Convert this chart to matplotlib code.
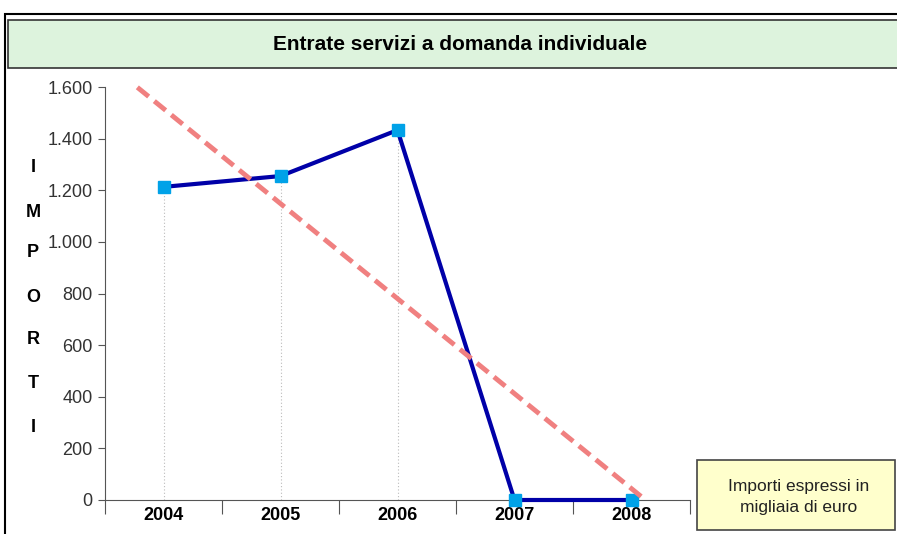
import matplotlib
matplotlib.use("Agg")
import matplotlib.pyplot as plt
import numpy as np
from matplotlib.patches import Rectangle
from matplotlib.ticker import FuncFormatter, FixedLocator

plt.rcParams['font.family'] = ['Liberation Sans', 'DejaVu Sans']

years = ["2004", "2005", "2006", "2007", "2008"]
values = [1213, 1255, 1433, 0, 0]
title = "Entrate servizi a domanda individuale"
ylabel_letters = list("IMPORTI")
note = "Importi espressi in\nmigliaia di euro"

W, H = 897, 534
fig = plt.figure(figsize=(W / 100, H / 100), dpi=100)

def fx(x):
    return x / W

def fy(y):
    return 1 - y / H

# outer frame
fig.patches.append(Rectangle((fx(5), fy(540)), fx(900) - fx(5), fy(14) - fy(540),
                             transform=fig.transFigure, fill=False, edgecolor='black',
                             linewidth=1.5, zorder=0))
# title box
fig.patches.append(Rectangle((fx(8), fy(68)), fx(905) - fx(8), fy(20) - fy(68),
                             transform=fig.transFigure, facecolor='#DDF3DD', edgecolor='#333333',
                             linewidth=1.2, zorder=1))
fig.text(fx(460), fy(44), title, ha='center', va='center', fontsize=15,
         fontweight='bold', color='black')

ax = fig.add_axes([fx(105), fy(500), fx(690) - fx(105), fy(87) - fy(500)])
x = np.arange(1, len(years) + 1)

ax.set_xlim(0.5, len(years) + 0.5)
ax.set_ylim(0, 1600)

# drop lines
ax.vlines(x, 0, values, colors='#BBBBBB', linestyles=(0, (1, 2)), linewidth=0.8, zorder=2)

# data line
ax.plot(x, values, color='#0000A8', linewidth=3, zorder=3, clip_on=False,
        marker='s', markersize=8, markerfacecolor='#00A2E8', markeredgecolor='#00A2E8')

# linear trend
coef = np.polyfit(x, values, 1)
xt = np.linspace(0.5, len(years) + 0.5, 200)
yt = np.polyval(coef, xt)
mask = (yt <= 1600) & (yt >= 0)
ax.plot(xt[mask], yt[mask], color='#F08080', linewidth=3.5, linestyle=(0, (3, 1.5)),
        zorder=4, clip_on=False, solid_capstyle='butt', dash_capstyle='butt')

# spines
for s in ['top', 'right']:
    ax.spines[s].set_visible(False)
ax.spines['left'].set_color('#555555')
ax.spines['bottom'].set_color('#555555')

ax.yaxis.set_major_locator(FixedLocator(np.arange(0, 1601, 200)))
ax.yaxis.set_major_formatter(FuncFormatter(lambda v, p: f"{int(v):,}".replace(",", ".")))
ax.tick_params(axis='y', direction='out', length=5, color='#555555', labelsize=13,
               labelcolor='#333333', pad=4)

ax.set_xticks(np.arange(0.5, len(years) + 1, 1.0))
ax.set_xticklabels([])
ax.tick_params(axis='x', which='major', direction='out', length=10, color='#555555')
ax.set_xticks(x, minor=True)
ax.set_xticklabels(years, minor=True, fontweight='bold', fontsize=13)
ax.tick_params(axis='x', which='minor', length=0, pad=5)

# vertical y-label letters
ys = [167, 212, 253, 297, 340, 383, 428]
for letter, yy in zip(ylabel_letters, ys):
    fig.text(fx(33), fy(yy), letter, ha='center', va='center', fontsize=13, fontweight='bold')

# note box
fig.patches.append(Rectangle((fx(697), fy(530)), fx(895) - fx(697), fy(460) - fy(530),
                             transform=fig.transFigure, facecolor='#FFFFCC', edgecolor='#444444',
                             linewidth=1.2, zorder=1))
fig.text(fx(799), fy(497), note, ha='center', va='center', fontsize=12.5,
         color='#222222', linespacing=1.45)

fig.savefig("out.png", dpi=100)
